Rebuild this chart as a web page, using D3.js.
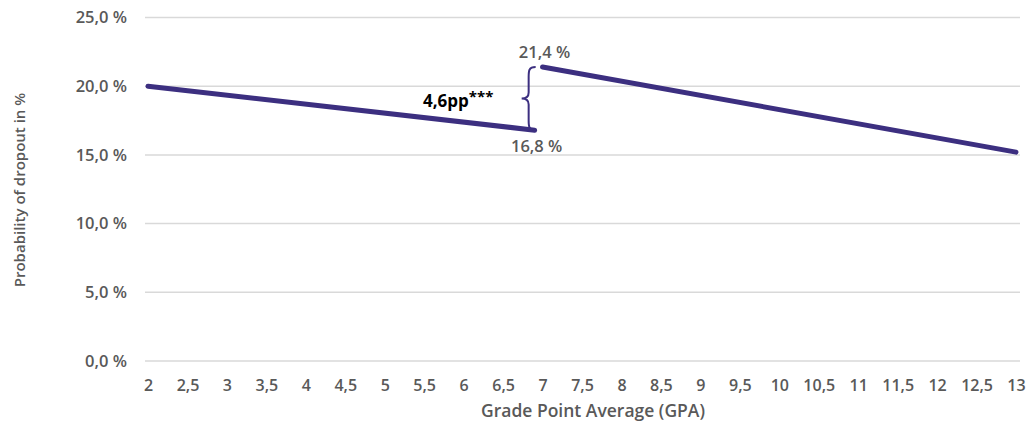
<!DOCTYPE html>
<html>
<head>
<meta charset="utf-8">
<script src="https://cdn.jsdelivr.net/npm/d3@7"></script>
<style>
  body { margin: 0; background: #fff; }
  text { font-family: "Open Sans", sans-serif; }
</style>
</head>
<body>
<div class="chart"></div>
<script>
// GPA on x, dropout probability (%) on y, split at the GPA 7 cutoff
const belowGpa = [2, 6.9]
const belowProb = [20.0, 16.8]
const aboveGpa = [7, 13]
const aboveProb = [21.4, 15.2]
const xTicks = d3.range(2, 13.01, 0.5)
const yTicks = [0, 5, 10, 15, 20, 25]

const width = 1036
const height = 421
const margin = {top: 17, right: 21, bottom: 60, left: 148}

const fmtX = d => String(d).replace('.', ',')
const fmtY = d => d.toFixed(1).replace('.', ',') + ' %'

const x = d3.scaleLinear().domain([2, 13]).range([margin.left, 1016])
const y = d3.scaleLinear().domain([0, 25]).range([361, 17.5])

const svg = d3.select('.chart')
  .append('svg')
  .attr('width', width)
  .attr('height', height)

// gridlines
svg.append('g')
  .selectAll('line')
  .data(yTicks)
  .enter()
  .append('line')
    .attr('x1', 145)
    .attr('x2', 1020)
    .attr('y1', d => y(d))
    .attr('y2', d => y(d))
    .style('stroke', '#d9d9d9')
    .style('stroke-width', '1.5px')

// y axis labels
svg.append('g')
  .attr('transform', 'translate(127,0)')
  .call(d3.axisLeft(y).tickValues(yTicks).tickFormat(fmtY).tickSize(0).tickPadding(0))
  .call(g => g.select('.domain').remove())
  .selectAll('text')
    .style('font-size', '16.5px')
    .style('font-weight', '600')
    .style('fill', '#595959')
    .style('font-family', '"Open Sans", sans-serif')

// x axis labels
svg.append('g')
  .attr('transform', 'translate(0,380)')
  .call(d3.axisBottom(x).tickValues(xTicks).tickFormat(fmtX).tickSize(0).tickPadding(0))
  .call(g => g.select('.domain').remove())
  .selectAll('text')
    .style('font-size', '16px')
    .style('font-weight', '600')
    .style('fill', '#595959')
    .style('font-family', '"Open Sans", sans-serif')

// axis titles
svg.append('text')
  .attr('x', 593)
  .attr('y', 417)
  .attr('text-anchor', 'middle')
  .style('font-size', '17.5px')
  .style('font-weight', '600')
  .style('fill', '#595959')
  .text('Grade Point Average (GPA)')

svg.append('text')
  .attr('transform', 'translate(25,190) rotate(-90)')
  .attr('text-anchor', 'middle')
  .style('font-size', '15px')
  .style('font-weight', '600')
  .style('fill', '#595959')
  .text('Probability of dropout in %')

// the two regression lines
const line = d3.line().x(d => x(d[0])).y(d => y(d[1]))
const segments = [d3.zip(belowGpa, belowProb), d3.zip(aboveGpa, aboveProb)]

svg.append('g')
  .selectAll('path')
  .data(segments)
  .enter()
  .append('path')
    .attr('d', line)
    .style('fill', 'none')
    .style('stroke', '#3c2f80')
    .style('stroke-width', '5px')
    .style('stroke-linecap', 'round')

// curly brace for the jump
const bx = x(belowGpa[1]) - 7
const yTop = y(aboveProb[0])
const yBot = y(belowProb[1])
const yMid = (yTop + yBot) / 2
const braceD = `M${bx + 8},${yTop} C${bx + 1},${yTop} ${bx + 1},${yTop + 4} ${bx + 1},${yTop + 10}
  L${bx + 1},${yMid - 6} C${bx + 1},${yMid - 1} ${bx - 2},${yMid} ${bx - 6},${yMid}
  C${bx - 2},${yMid} ${bx + 1},${yMid + 1} ${bx + 1},${yMid + 6}
  L${bx + 1},${yBot - 10} C${bx + 1},${yBot - 4} ${bx + 1},${yBot} ${bx + 8},${yBot}`
svg.append('path')
  .attr('d', braceD)
  .style('fill', 'none')
  .style('stroke', '#3c2f80')
  .style('stroke-width', '2px')

// annotations
svg.append('text')
  .attr('x', x(aboveGpa[0]) + 2)
  .attr('y', y(aboveProb[0]) - 9)
  .attr('text-anchor', 'middle')
  .style('font-size', '16.5px')
  .style('font-weight', '600')
  .style('fill', '#595959')
  .text('21,4 %')

svg.append('text')
  .attr('x', x(belowGpa[1]) + 2)
  .attr('y', y(belowProb[1]) + 22)
  .attr('text-anchor', 'middle')
  .style('font-size', '16.5px')
  .style('font-weight', '600')
  .style('fill', '#595959')
  .text('16,8 %')

const jump = svg.append('text')
  .attr('x', 423)
  .attr('y', 107)
  .style('font-size', '17px')
  .style('font-weight', '700')
  .style('fill', '#000')
jump.append('tspan').text('4,6pp')
jump.append('tspan')
  .attr('dy', -5)
  .style('font-size', '15px')
  .text('***')
</script>
</body>
</html>
